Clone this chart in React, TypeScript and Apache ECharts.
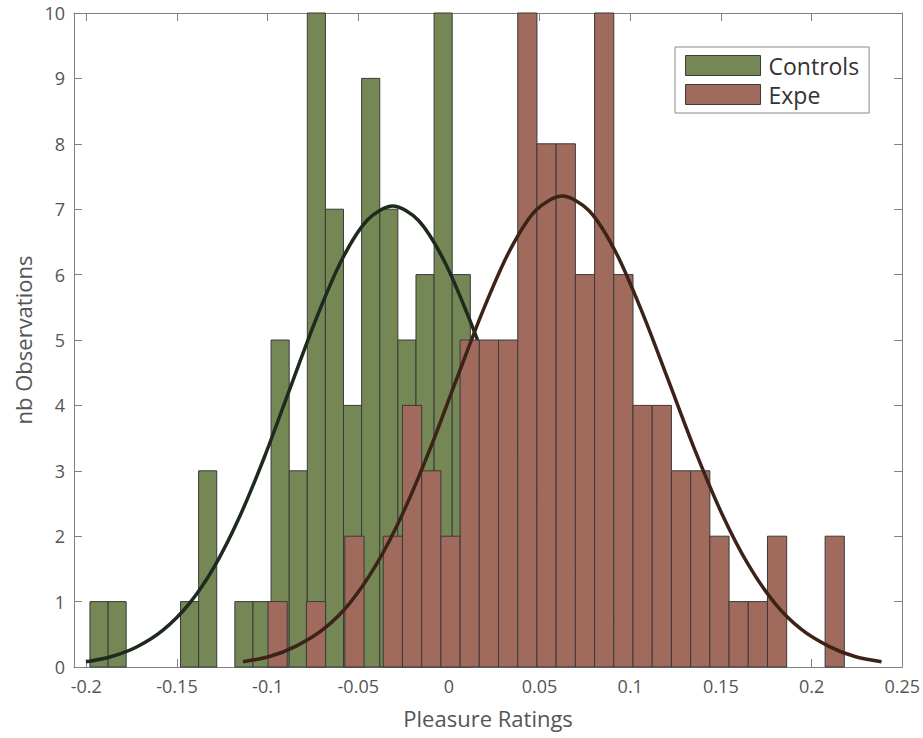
import React, { useEffect, useRef } from "react";
import * as echarts from "echarts";

// Histogram bins (left edge of first bin, bin width, counts per bin)
const controlsBinStart = -0.198;
const controlsBinWidth = 0.00999;
const controlsCounts = [1, 1, 0, 0, 0, 1, 3, 0, 1, 1, 5, 3, 10, 7, 4, 9, 7, 5, 6, 10, 6];

const expeBinStart = -0.0998;
const expeBinWidth = 0.010596;
const expeCounts = [1, 0, 1, 0, 2, 0, 2, 4, 3, 2, 5, 5, 5, 10, 8, 8, 6, 10, 6, 4, 4, 3, 3, 2, 1, 1, 2, 0, 0, 2];

// Fitted curves
const controlsFitX = [-0.2002, -0.1861, -0.172, -0.1579, -0.1438, -0.1297, -0.1156, -0.1015, -0.0874, -0.0733, -0.0592, -0.0451, -0.031, -0.0169, -0.0028, 0.0113, 0.0254, 0.0395, 0.0536, 0.0677, 0.0818, 0.0959, 0.11, 0.1241, 0.1382];
const controlsFitY = [0.078, 0.16, 0.31, 0.56, 0.95, 1.52, 2.29, 3.23, 4.28, 5.32, 6.22, 6.83, 7.05, 6.83, 6.22, 5.32, 4.28, 3.23, 2.29, 1.52, 0.95, 0.56, 0.31, 0.16, 0.078];

const expeFitX = [-0.1136, -0.0989, -0.0843, -0.0696, -0.0549, -0.0402, -0.0256, -0.0109, 0.0038, 0.0185, 0.0332, 0.0478, 0.0625, 0.0772, 0.0919, 0.1065, 0.1212, 0.1359, 0.1506, 0.1652, 0.1799, 0.1946, 0.2093, 0.2239, 0.2386];
const expeFitY = [0.08, 0.16, 0.32, 0.57, 0.97, 1.56, 2.34, 3.3, 4.37, 5.43, 6.35, 6.98, 7.2, 6.98, 6.35, 5.43, 4.37, 3.3, 2.34, 1.56, 0.97, 0.57, 0.32, 0.16, 0.08];

const xTicks = [-0.2, -0.15, -0.1, -0.05, 0, 0.05, 0.1, 0.15, 0.2, 0.25];

const GREEN = "#748755";
const RED = "#a06a5d";
const EDGE = "#3a3a3a";
const AXIS = "#808080";
const FONT = "Open Sans";

function bins(start: number, width: number, counts: number[]) {
  const out: number[][] = [];
  counts.forEach((c, i) => {
    if (c > 0) out.push([start + i * width, start + (i + 1) * width, c]);
  });
  return out;
}

function histSeries(name: string, color: string, data: number[][], z: number) {
  return {
    type: "custom",
    name,
    z,
    itemStyle: { color, borderColor: EDGE, borderWidth: 1 },
    encode: { x: [0, 1], y: 2 },
    data,
    renderItem: (_p: any, api: any) => {
      const a = api.coord([api.value(0), api.value(2)]);
      const b = api.coord([api.value(1), 0]);
      return {
        type: "rect",
        shape: { x: a[0], y: a[1], width: b[0] - a[0], height: b[1] - a[1] },
        style: { fill: color, stroke: EDGE, lineWidth: 1 },
      };
    },
  };
}

function fitSeries(name: string, color: string, xs: number[], ys: number[], z: number) {
  return {
    type: "line",
    name,
    z,
    smooth: 0.3,
    showSymbol: false,
    symbol: "none",
    data: xs.map((x, i) => [x, ys[i]]),
    lineStyle: { color, width: 3.5 },
    itemStyle: { color },
  };
}

export default function App() {
  const ref = useRef<HTMLDivElement>(null);
  useEffect(() => {
    const chart = echarts.init(ref.current!, null, { renderer: "svg" });
    const xMin = -0.2068;
    const xMax = 0.25;
    const axisLine = { show: true, onZero: false, lineStyle: { color: AXIS, width: 1 } };
    const tick = { show: true, inside: true, length: 8, lineStyle: { color: AXIS } };
    chart.setOption({
      animation: false,
      backgroundColor: "#ffffff",
      grid: { left: 74, top: 13, right: 20, bottom: 71 },
      legend: {
        left: 675,
        top: 47,
        orient: "vertical",
        backgroundColor: "#ffffff",
        borderColor: "#8a8a8a",
        borderWidth: 1,
        padding: [7, 10, 7, 10],
        itemGap: 6,
        itemWidth: 75,
        itemHeight: 20,
        icon: "rect",
        textStyle: {
          fontFamily: FONT,
          fontSize: 23,
          color: "#333333",
          padding: [0, 0, 0, 3],
        },
        data: [
          { name: "Controls", itemStyle: { color: GREEN, borderColor: EDGE, borderWidth: 1 } },
          { name: "Expe", itemStyle: { color: RED, borderColor: EDGE, borderWidth: 1 } },
        ],
      },
      xAxis: [
        {
          type: "value",
          min: xMin,
          max: xMax,
          position: "bottom",
          axisLine,
          splitLine: { show: false },
          axisTick: { ...tick, customValues: xTicks },
          axisLabel: {
            show: true,
            customValues: xTicks,
            margin: 10,
            fontFamily: FONT,
            fontSize: 18,
            color: "#555555",
            formatter: (v: number) => String(Math.round(v * 100) / 100),
          },
          name: "Pleasure Ratings",
          nameLocation: "middle",
          nameGap: 40,
          nameTextStyle: { fontFamily: FONT, fontSize: 22, color: "#555555" },
        },
        {
          type: "value",
          min: xMin,
          max: xMax,
          position: "top",
          axisLine,
          splitLine: { show: false },
          axisTick: { ...tick, customValues: xTicks },
          axisLabel: { show: false },
        },
      ],
      yAxis: [
        {
          type: "value",
          min: 0,
          max: 10,
          interval: 1,
          position: "left",
          axisLine,
          splitLine: { show: false },
          axisTick: tick,
          axisLabel: { show: true, margin: 9, fontFamily: FONT, fontSize: 18, color: "#555555" },
          name: "nb Observations",
          nameLocation: "middle",
          nameGap: 37,
          nameTextStyle: { fontFamily: FONT, fontSize: 22, color: "#555555" },
        },
        {
          type: "value",
          min: 0,
          max: 10,
          interval: 1,
          position: "right",
          axisLine,
          splitLine: { show: false },
          axisTick: tick,
          axisLabel: { show: false },
        },
      ],
      series: [
        histSeries("Controls", GREEN, bins(controlsBinStart, controlsBinWidth, controlsCounts), 2),
        fitSeries("Controls fit", "#1e2a1e", controlsFitX, controlsFitY, 3),
        histSeries("Expe", RED, bins(expeBinStart, expeBinWidth, expeCounts), 4),
        fitSeries("Expe fit", "#3d2218", expeFitX, expeFitY, 5),
      ],
    });
    return () => chart.dispose();
  }, []);
  return (
    <div
      ref={ref}
      style={{ position: "fixed", left: 0, top: 0, width: 923, height: 738, background: "#fff" }}
    />
  );
}
